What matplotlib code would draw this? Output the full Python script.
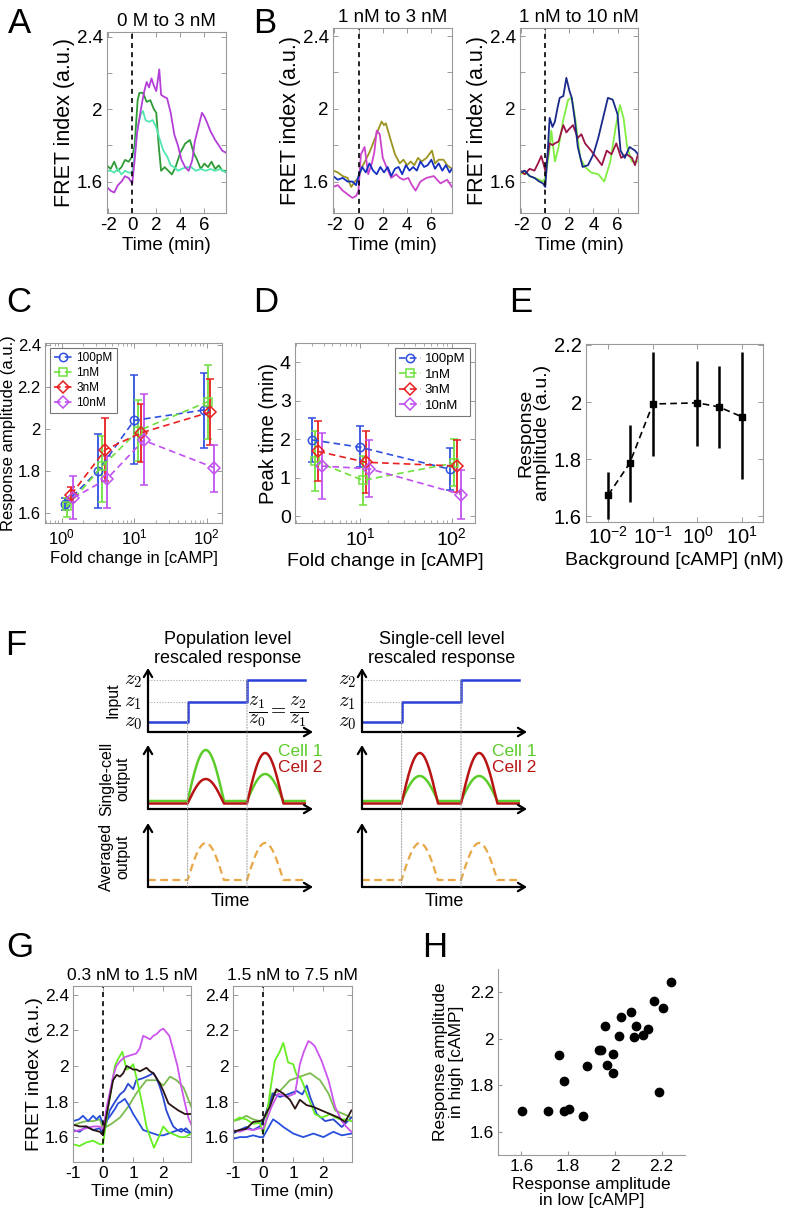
import numpy as np
import matplotlib
matplotlib.use('Agg')
import matplotlib.pyplot as plt
from matplotlib.patches import ConnectionPatch
from matplotlib.ticker import FormatStrFormatter

plt.rcParams['font.family'] = ['Liberation Sans', 'DejaVu Sans']
plt.rcParams['axes.unicode_minus'] = False

# ---------------- A: 0 M to 3 nM ----------------
a_mag_t = [-2.1, -1.8, -1.5, -1.2, -0.9, -0.6, -0.3, 0, 0.2, 0.4, 0.6, 0.8, 1.0, 1.2, 1.4, 1.6, 1.8, 2.0,
           2.25, 2.4, 2.6, 2.9, 3.2, 3.5, 3.8, 4.1, 4.4, 4.7, 5.0, 5.2, 5.5, 5.8, 6.0, 6.2, 6.5, 6.9, 7.2, 7.5, 7.8]
a_mag_v = [1.57, 1.55, 1.54, 1.58, 1.60, 1.63, 1.62, 1.59, 1.72, 1.87, 1.95, 2.03, 2.10, 2.15, 2.12, 2.17, 2.13, 2.10,
           2.22, 2.08, 2.07, 2.06, 1.98, 1.86, 1.80, 1.72, 1.68, 1.66, 1.72, 1.82, 1.90, 1.98, 1.96, 1.93, 1.88, 1.83,
           1.80, 1.77, 1.76]
a_grn_t = [-2.1, -1.8, -1.5, -1.2, -0.9, -0.6, -0.3, 0, 0.2, 0.45, 0.6, 0.9, 1.2, 1.5, 1.8, 2.0, 2.2, 2.4,
           2.7, 3.0, 3.3, 3.6, 4.0, 4.4, 4.8, 5.1, 5.4, 5.7, 6.0, 6.3, 6.6, 6.9, 7.2, 7.5, 7.8]
a_grn_v = [1.69, 1.67, 1.71, 1.66, 1.68, 1.72, 1.71, 1.74, 1.80, 2.05, 2.09, 2.09, 2.04, 2.05, 2.00, 1.98, 1.80, 1.66,
           1.68, 1.66, 1.64, 1.68, 1.76, 1.81, 1.83, 1.76, 1.72, 1.67, 1.70, 1.68, 1.71, 1.67, 1.69, 1.66, 1.66]
a_cyn_t = [-2.1, -1.8, -1.5, -1.2, -0.9, -0.6, -0.3, 0, 0.2, 0.45, 0.7, 0.9, 1.1, 1.4, 1.7, 2.0, 2.3, 2.6,
           2.9, 3.2, 3.5, 3.8, 4.1, 4.5, 4.9, 5.3, 5.7, 6.1, 6.5, 6.9, 7.3, 7.8]
a_cyn_v = [1.66, 1.66, 1.65, 1.67, 1.64, 1.66, 1.65, 1.65, 1.75, 1.90, 1.97, 1.99, 1.94, 1.93, 1.94, 1.90, 1.83, 1.77,
           1.74, 1.69, 1.68, 1.66, 1.67, 1.68, 1.68, 1.66, 1.67, 1.66, 1.67, 1.66, 1.67, 1.65]

# ---------------- B: 1 nM to 3 nM ----------------
b1_olv_t = [-2.1, -1.7, -1.3, -0.9, -0.6, -0.3, 0, 0.3, 0.6, 0.9, 1.2, 1.6, 1.9, 2.1, 2.25, 2.6, 3.0,
            3.4, 3.7, 4.0, 4.3, 4.6, 4.9, 5.2, 5.6, 6.05, 6.3, 6.6, 7.0, 7.3, 7.7]
b1_olv_v = [1.66, 1.65, 1.63, 1.62, 1.57, 1.60, 1.62, 1.68, 1.72, 1.76, 1.81, 1.88, 1.93, 1.91, 1.92, 1.84, 1.75,
            1.70, 1.72, 1.69, 1.71, 1.69, 1.73, 1.71, 1.73, 1.77, 1.70, 1.72, 1.72, 1.69, 1.67]
b1_blu_t = [-2.1, -1.7, -1.3, -0.9, -0.5, -0.2, 0, 0.3, 0.6, 0.9, 1.2, 1.5, 1.8, 2.1, 2.4, 2.7, 3.0,
            3.3, 3.6, 3.9, 4.2, 4.5, 4.8, 5.1, 5.4, 5.7, 6.0, 6.3, 6.6, 6.9, 7.2, 7.5, 7.7]
b1_blu_v = [1.63, 1.61, 1.62, 1.60, 1.60, 1.58, 1.63, 1.68, 1.65, 1.70, 1.66, 1.64, 1.68, 1.65, 1.68, 1.63, 1.67,
            1.68, 1.64, 1.69, 1.66, 1.68, 1.66, 1.71, 1.68, 1.69, 1.72, 1.67, 1.70, 1.66, 1.69, 1.65, 1.67]
b1_mag_t = [-2.1, -1.7, -1.3, -0.9, -0.5, -0.2, 0, 0.2, 0.5, 0.8, 1.1, 1.3, 1.5, 1.75, 2.0, 2.3, 2.7,
            3.1, 3.4, 3.7, 4.1, 4.4, 4.7, 5.1, 5.6, 6.2, 6.75, 7.3, 7.7]
b1_mag_v = [1.57, 1.58, 1.55, 1.53, 1.51, 1.52, 1.55, 1.75, 1.79, 1.64, 1.70, 1.76, 1.88, 1.86, 1.73, 1.68, 1.62,
            1.64, 1.62, 1.61, 1.62, 1.58, 1.55, 1.60, 1.62, 1.63, 1.59, 1.61, 1.57]

# ---------------- B: 1 nM to 10 nM ----------------
b2_nav_t = [-2.1, -1.7, -1.3, -0.9, -0.5, -0.2, 0, 0.2, 0.36, 0.6, 0.8, 1.0, 1.2, 1.5, 1.75, 2.0, 2.2,
            2.45, 2.7, 3.1, 3.55, 4.0, 4.4, 4.8, 5.2, 5.6, 6.0, 6.25, 6.6, 7.0, 7.45, 7.7]
b2_nav_v = [1.65, 1.66, 1.63, 1.62, 1.60, 1.59, 1.57, 1.76, 1.95, 1.90, 1.93, 2.00, 2.06, 2.07, 2.17, 2.10, 2.06,
            1.94, 1.79, 1.68, 1.69, 1.75, 1.84, 1.95, 2.06, 2.05, 1.97, 1.77, 1.73, 1.79, 1.77, 1.75]
b2_grn_t = [-2.1, -1.7, -1.3, -0.9, -0.5, -0.2, 0, 0.3, 0.5, 0.8, 1.1, 1.5, 1.9, 2.2, 2.5, 2.9, 3.3,
            3.8, 4.4, 4.9, 5.4, 5.85, 6.2, 6.5, 6.8, 7.2, 7.7]
b2_grn_v = [1.64, 1.65, 1.63, 1.62, 1.61, 1.60, 1.62, 1.75, 1.88, 1.71, 1.79, 1.94, 2.05, 2.06, 1.94, 1.73, 1.68,
            1.65, 1.64, 1.60, 1.71, 1.90, 2.02, 1.95, 1.79, 1.71, 1.71]
b2_mar_t = [-2.1, -1.7, -1.3, -0.9, -0.6, -0.33, 0, 0.36, 0.6, 0.8, 1.1, 1.5, 1.75, 2.0, 2.3, 2.7, 3.0,
            3.3, 3.8, 4.25, 4.7, 5.1, 5.5, 5.9, 6.3, 6.75, 7.2, 7.45, 7.7]
b2_mar_v = [1.66, 1.64, 1.67, 1.66, 1.70, 1.74, 1.66, 1.81, 1.80, 1.81, 1.82, 1.91, 1.87, 1.89, 1.91, 1.84, 1.86,
            1.81, 1.77, 1.73, 1.69, 1.77, 1.75, 1.81, 1.73, 1.75, 1.73, 1.69, 1.75]

# ---------------- C: response amplitude vs fold change ----------------
c_labels = ['100pM', '1nM', '3nM', '10nM']
c_x = [[1.1, 3.2, 10, 92], [1.2, 3.6, 11.3, 105], [1.35, 4.0, 12.3, 112], [1.45, 4.2, 13.5, 125]]
c_y = [[1.64, 1.80, 2.04, 2.09], [1.63, 1.82, 1.99, 2.13], [1.685, 1.90, 1.98, 2.08], [1.67, 1.76, 1.945, 1.815]]
c_lo = [[1.61, 1.62, 1.83, 1.91], [1.58, 1.65, 1.845, 1.95], [1.65, 1.75, 1.84, 1.925], [1.57, 1.62, 1.73, 1.70]]
c_hi = [[1.67, 1.975, 2.255, 2.265], [1.67, 1.965, 2.14, 2.305], [1.72, 2.05, 2.12, 2.24], [1.775, 1.87, 2.165, 1.925]]

# ---------------- D: peak time vs fold change ----------------
d_x = [[3.0, 10, 95], [3.2, 10.8, 107], [3.5, 11.6, 115], [3.8, 12.6, 128]]
d_y = [[1.98, 1.79, 1.22], [1.43, 0.93, 1.38], [1.68, 1.40, 1.30], [1.30, 1.23, 0.56]]
d_lo = [[1.40, 1.27, 0.68], [0.65, 0.28, 0.77], [0.91, 0.60, 0.62], [0.44, 0.49, -0.07]]
d_hi = [[2.55, 2.33, 1.76], [2.22, 1.57, 2.00], [2.46, 2.21, 1.97], [2.17, 1.97, 1.20]]

# ---------------- E: amplitude vs background ----------------
e_bg = [0.01, 0.03, 0.1, 1, 3, 10]
e_amp = [1.675, 1.785, 1.993, 1.997, 1.983, 1.948]
e_lo = [1.59, 1.65, 1.81, 1.845, 1.84, 1.73]
e_hi = [1.755, 1.92, 2.175, 2.145, 2.125, 2.175]

# ---------------- F: schematic ----------------
f_steps = [0.0, 2.4, 6.0, 9.5]
f_input = [1.0, 3.0, 5.2]
f_green_base, f_red_base, f_avg_base = 0.8, 0.55, 0.7
f_pop_green = [5.9, 3.5]
f_pop_red = [3.0, 5.6]
f_sc_green = [3.3, 3.3]
f_sc_red = [5.6, 5.6]
f_avg_peak = [4.4, 4.4]
f_hump = 2.2

# ---------------- G: 0.3 -> 1.5 nM ----------------
g1_mag_t = [-1, -0.78, -0.56, -0.33, -0.11, 0, 0.11, 0.22, 0.33, 0.44, 0.58, 0.72, 0.9, 1.1, 1.22, 1.33,
            1.45, 1.56, 1.67, 1.78, 1.89, 2.0, 2.1, 2.2, 2.33, 2.47, 2.6, 2.72, 2.83, 2.93]
g1_mag_v = [1.63, 1.64, 1.65, 1.66, 1.66, 1.64, 1.76, 1.85, 1.94, 2.00, 2.03, 2.05, 2.06, 2.07, 2.10, 2.17,
            2.16, 2.15, 2.17, 2.18, 2.20, 2.21, 2.19, 2.17, 2.09, 2.00, 1.88, 1.79, 1.71, 1.67]
g1_blk_t = [-1, -0.78, -0.56, -0.33, -0.11, 0, 0.11, 0.22, 0.33, 0.45, 0.56, 0.67, 0.78, 0.9, 1.0, 1.11,
            1.22, 1.33, 1.44, 1.56, 1.67, 1.78, 1.89, 2.0, 2.17, 2.33, 2.5, 2.72, 2.93]
g1_blk_v = [1.67, 1.66, 1.66, 1.64, 1.63, 1.61, 1.72, 1.82, 1.92, 1.95, 1.94, 1.96, 2.00, 1.99, 1.98, 1.98,
            1.97, 1.98, 1.99, 1.97, 1.96, 1.93, 1.90, 1.86, 1.79, 1.77, 1.75, 1.73, 1.73]
g1_bl1_t = [-1, -0.78, -0.56, -0.33, -0.11, 0, 0.22, 0.4, 0.56, 0.7, 0.83, 1.0, 1.1, 1.3, 1.44, 1.56,
            1.67, 1.78, 1.89, 2.0, 2.1, 2.22, 2.33, 2.47, 2.6, 2.75, 2.93]
g1_bl1_v = [1.64, 1.63, 1.66, 1.64, 1.65, 1.61, 1.75, 1.80, 1.84, 1.86, 1.90, 1.87, 1.92, 1.93, 1.94, 1.95,
            1.96, 1.93, 1.88, 1.82, 1.75, 1.70, 1.66, 1.64, 1.63, 1.65, 1.62]
g1_bl2_t = [-1, -0.8, -0.67, -0.5, -0.33, -0.22, -0.11, 0, 0.15, 0.28, 0.4, 0.5, 0.6, 0.72, 0.85, 1.0, 1.15, 1.33,
            1.5, 1.67, 1.85, 2.0, 2.17, 2.33, 2.5, 2.6, 2.75, 2.93]
g1_bl2_v = [1.69, 1.70, 1.72, 1.69, 1.72, 1.70, 1.72, 1.675, 1.70, 1.73, 1.76, 1.79, 1.80, 1.815, 1.78, 1.73, 1.69,
            1.64, 1.63, 1.62, 1.61, 1.61, 1.62, 1.63, 1.64, 1.647, 1.63, 1.62]
g1_lgr_t = [-1, -0.78, -0.56, -0.33, -0.11, 0, 0.17, 0.3, 0.39, 0.5, 0.64, 0.78, 0.9, 1.0, 1.1, 1.22,
            1.33, 1.44, 1.56, 1.69, 1.85, 2.0, 2.15, 2.28, 2.42, 2.56, 2.72, 2.93]
g1_lgr_v = [1.56, 1.55, 1.57, 1.58, 1.56, 1.56, 1.77, 1.90, 2.00, 2.04, 2.08, 1.98, 1.99, 2.01, 1.94, 1.85,
            1.76, 1.66, 1.60, 1.54, 1.60, 1.66, 1.63, 1.62, 1.61, 1.60, 1.60, 1.62]
g1_ogr_t = [-1, -0.78, -0.56, -0.33, -0.11, 0, 0.28, 0.56, 0.83, 1.1, 1.3, 1.44, 1.6, 1.78, 2.0, 2.22, 2.44, 2.67, 2.93]
g1_ogr_v = [1.665, 1.68, 1.69, 1.69, 1.70, 1.647, 1.675, 1.71, 1.77, 1.845, 1.89, 1.92, 1.92, 1.92, 1.89, 1.94,
            1.92, 1.88, 1.77]

# ---------------- G: 1.5 -> 7.5 nM ----------------
g2_lgr_t = [-1, -0.78, -0.56, -0.33, -0.11, 0, 0.11, 0.22, 0.39, 0.55, 0.67, 0.83, 1.0, 1.11, 1.22, 1.33,
            1.44, 1.6, 1.72, 1.94, 2.1, 2.22, 2.4, 2.56, 2.75, 2.93]
g2_lgr_v = [1.69, 1.71, 1.70, 1.675, 1.68, 1.62, 1.70, 1.845, 2.03, 2.08, 2.13, 2.02, 2.01, 1.95, 1.94, 1.90,
            1.845, 1.78, 1.73, 1.71, 1.72, 1.73, 1.71, 1.70, 1.70, 1.69]
g2_mag_t = [-1, -0.78, -0.56, -0.33, -0.11, 0, 0.28, 0.5, 0.78, 1.06, 1.22, 1.35, 1.5, 1.6, 1.72, 1.94,
            2.17, 2.39, 2.61, 2.75, 2.93]
g2_mag_v = [1.64, 1.63, 1.645, 1.64, 1.65, 1.647, 1.77, 1.845, 1.826, 1.845, 2.01, 2.08, 2.14, 2.13, 2.11, 2.03,
            1.92, 1.77, 1.69, 1.66, 1.63]
g2_ogr_t = [-1, -0.78, -0.56, -0.33, -0.11, 0, 0.28, 0.56, 0.89, 1.22, 1.56, 1.89, 2.17, 2.39, 2.67, 2.93]
g2_ogr_v = [1.69, 1.70, 1.72, 1.70, 1.69, 1.685, 1.845, 1.86, 1.92, 1.94, 1.96, 1.92, 1.845, 1.75, 1.73, 1.71]
g2_bl1_t = [-1, -0.78, -0.56, -0.33, -0.11, 0, 0.33, 0.56, 0.89, 1.11, 1.3, 1.45, 1.56, 1.78, 2.06, 2.33, 2.61, 2.93]
g2_bl1_v = [1.62, 1.64, 1.657, 1.64, 1.66, 1.69, 1.845, 1.826, 1.845, 1.86, 1.84, 1.89, 1.826, 1.73, 1.69, 1.70,
            1.657, 1.71]
g2_bl2_t = [-1, -0.78, -0.56, -0.33, -0.11, 0, 0.33, 0.5, 0.67, 1.0, 1.33, 1.67, 2.0, 2.33, 2.61, 2.93]
g2_bl2_v = [1.59, 1.60, 1.60, 1.61, 1.60, 1.60, 1.70, 1.68, 1.657, 1.62, 1.60, 1.62, 1.60, 1.63, 1.61, 1.62]
g2_blk_t = [-1, -0.78, -0.56, -0.33, -0.11, 0, 0.22, 0.44, 0.67, 0.89, 1.06, 1.22, 1.44, 1.67, 1.94, 2.22, 2.5,
            2.72, 2.93]
g2_blk_v = [1.63, 1.64, 1.647, 1.685, 1.69, 1.70, 1.77, 1.87, 1.845, 1.81, 1.76, 1.81, 1.78, 1.77, 1.75, 1.73, 1.71,
            1.685, 1.75]

# ---------------- H: amplitude high vs low ----------------
h_low = [1.604, 1.715, 1.784, 1.804, 1.864, 1.762, 1.784, 1.880, 1.930, 1.942, 1.956, 1.966, 1.990,
         1.993, 2.016, 2.025, 2.069, 2.081, 2.092, 2.121, 2.142, 2.167, 2.187, 2.204, 2.241]
h_high = [1.691, 1.691, 1.691, 1.696, 1.667, 1.930, 1.817, 1.881, 1.953, 1.953, 2.056, 1.886, 1.934,
          1.853, 2.010, 2.094, 2.113, 2.007, 2.054, 2.017, 2.044, 2.164, 1.771, 2.133, 2.246]

W, H = 789, 1211
GRAY = '#9a9a9a'
fig = plt.figure(figsize=(W / 100, H / 100), dpi=100)


def axes_px(l, t, r, b):
    return fig.add_axes([l / W, 1 - b / H, (r - l) / W, (b - t) / H])


def boxed(ax, size):
    for s in ax.spines.values():
        s.set_color(GRAY)
        s.set_linewidth(0.8)
    ax.tick_params(which='both', direction='in', top=True, right=True, color=GRAY, labelsize=size, pad=3)
    ax.tick_params(which='major', length=3.5, width=0.7)
    ax.tick_params(which='minor', length=2, width=0.6)


def trace_panel(box, traces, title, xlim, ylim, xticks, yticks, ylabels, size, ylabel_size=None):
    ax = axes_px(*box)
    for t, v, c in traces:
        ax.plot(t, v, color=c, lw=1.3)
    ax.axvline(0, color='k', lw=1.2, ls=(0, (3, 2.5)))
    ax.set_xlim(xlim)
    ax.set_ylim(ylim)
    ax.set_xticks(xticks)
    ax.set_yticks(yticks)
    ax.set_yticklabels(ylabels)
    boxed(ax, size)
    ax.set_title(title, fontsize=size, pad=4)
    ax.set_xlabel('Time (min)', fontsize=size, labelpad=2)
    if ylabel_size:
        ax.set_ylabel('FRET index (a.u.)', fontsize=ylabel_size, labelpad=1)
    return ax


ab_yt = [1.6, 1.8, 2.0, 2.2, 2.4]
ab_yl = ['1.6', '', '2', '', '2.4']
trace_panel((107, 32, 226, 213),
            [(a_grn_t, a_grn_v, '#2f9a36'), (a_cyn_t, a_cyn_v, '#52e6b0'), (a_mag_t, a_mag_v, '#b43fd8')],
            '0 M to 3 nM', (-2.1, 7.8), (1.427, 2.426), [-2, 0, 2, 4, 6], ab_yt, ab_yl, 13.5, 15.5)
trace_panel((333, 28, 452, 213),
            [(b1_olv_t, b1_olv_v, '#9c9420'), (b1_mag_t, b1_mag_v, '#cc44cc'), (b1_blu_t, b1_blu_v, '#1530c0')],
            '1 nM to 3 nM', (-2.1, 7.7), (1.427, 2.444), [-2, 0, 2, 4, 6], ab_yt, ab_yl, 13.5, 15.5)
trace_panel((520, 28, 638, 213),
            [(b2_grn_t, b2_grn_v, '#80ee40'), (b2_mar_t, b2_mar_v, '#9a1446'), (b2_nav_t, b2_nav_v, '#1a2a8a')],
            '1 nM to 10 nM', (-2.1, 7.7), (1.427, 2.444), [-2, 0, 2, 4, 6], ab_yt, ab_yl, 13.5, 15.5)

# ---- C and D ----
cd_colors = ['#3050e0', '#70e040', '#e82020', '#c050f0']
cd_markers = ['o', 's', 'D', 'D']


def err_series(ax, xs, ys, los, his, ms):
    handles = []
    for x, y, lo, hi, c, m in zip(xs, ys, los, his, cd_colors, cd_markers):
        y = np.array(y)
        yerr = [y - np.array(lo), np.array(hi) - y]
        eb = ax.errorbar(x, y, yerr=yerr, color=c, marker=m, ms=ms, mfc='none', mew=1.1,
                         ls=(0, (4, 2.5)), lw=1.2, elinewidth=1.3, capsize=3, capthick=1.1)
        handles.append(eb[0])
    return handles


ax_c = axes_px(45, 343, 222, 523)
hc = err_series(ax_c, c_x, c_y, c_lo, c_hi, 6)
ax_c.set_xscale('log')
ax_c.set_xlim(0.59, 163)
ax_c.set_ylim(1.55, 2.41)
ax_c.set_yticks([1.6, 1.8, 2.0, 2.2, 2.4])
ax_c.yaxis.set_major_formatter(FormatStrFormatter('%g'))
boxed(ax_c, 12)
ax_c.set_ylabel('Response amplitude (a.u.)', fontsize=12, labelpad=1)
ax_c.set_xlabel('Fold change in [cAMP]', fontsize=12, labelpad=3)
leg = ax_c.legend(hc, c_labels, loc='upper left', fontsize=8.5, handlelength=1.6, handletextpad=0.3,
                  borderpad=0.35, labelspacing=0.25, fancybox=False, borderaxespad=0.4)
leg.get_frame().set_edgecolor('#555555')
leg.get_frame().set_linewidth(0.8)

ax_d = axes_px(295, 343, 475, 523)
hd = err_series(ax_d, d_x, d_y, d_lo, d_hi, 6)
ax_d.set_xscale('log')
ax_d.set_xlim(1.95, 180)
ax_d.set_ylim(-0.18, 4.5)
ax_d.set_yticks([0, 1, 2, 3, 4])
boxed(ax_d, 14)
ax_d.set_ylabel('Peak time (min)', fontsize=14.5, labelpad=1)
ax_d.set_xlabel('Fold change in [cAMP]', fontsize=14, labelpad=3)
leg = ax_d.legend(hd, c_labels, loc='upper right', fontsize=9.5, handlelength=1.6, handletextpad=0.3,
                  borderpad=0.35, labelspacing=0.25, fancybox=False, borderaxespad=0.4)
leg.get_frame().set_edgecolor('#555555')
leg.get_frame().set_linewidth(0.8)

# ---- E ----
ax_e = axes_px(586, 344, 763, 522)
e_amp_arr = np.array(e_amp)
ax_e.errorbar(e_bg, e_amp_arr, yerr=[e_amp_arr - np.array(e_lo), np.array(e_hi) - e_amp_arr], color='k',
              marker='s', ms=4, ls=(0, (4, 2.5)), lw=1.2, elinewidth=1.8, capsize=0)
ax_e.set_xscale('log')
ax_e.set_xlim(10 ** -2.5, 10 ** 1.47)
ax_e.set_ylim(1.58, 2.203)
ax_e.set_xticks([0.01, 0.1, 1, 10])
ax_e.set_yticks([1.6, 1.8, 2.0, 2.2])
ax_e.yaxis.set_major_formatter(FormatStrFormatter('%g'))
boxed(ax_e, 14.5)
ax_e.set_ylabel('Response\namplitude (a.u.)', fontsize=14, labelpad=2, linespacing=1.0)
ax_e.set_xlabel('Background [cAMP] (nM)', fontsize=14, labelpad=3)

# ---- F: schematic ----
t_f = np.linspace(0, f_steps[-1], 951)


def response(base, peaks):
    y = np.full_like(t_f, base)
    for start, pk in zip(f_steps[1:3], peaks):
        m = (t_f >= start) & (t_f <= start + f_hump)
        y[m] = base + (pk - base) * np.sin(np.pi * (t_f[m] - start) / f_hump)
    return y


def arrows(ax):
    for s in ax.spines.values():
        s.set_visible(False)
    ax.set_xticks([])
    ax.set_yticks([])
    ax.set_xlim(0, 10)
    ax.set_ylim(0, 6.4)
    ax.patch.set_alpha(0)
    kw = dict(arrowstyle='->,head_length=0.5,head_width=0.3', lw=1.6, color='k', shrinkA=0, shrinkB=0)
    ax.annotate('', xy=(1, 0), xytext=(0, 0), xycoords='axes fraction', arrowprops=kw)
    ax.annotate('', xy=(0, 1), xytext=(0, 0), xycoords='axes fraction', arrowprops=kw)


def schematic(x0, title, green_pk, red_pk, row_labels):
    ax_in = axes_px(x0, 668, x0 + 165, 732)
    ax_sc = axes_px(x0, 745, x0 + 165, 809)
    ax_av = axes_px(x0, 823, x0 + 165, 887)
    for ax in (ax_in, ax_sc, ax_av):
        arrows(ax)
    dot = dict(color='#a8a8a8', lw=0.8, ls=(0, (1, 1.5)))
    ax_in.hlines(f_input[1:], 0, f_steps[1:3], **dot)
    for st, lv in zip(f_steps[1:3], f_input[1:]):
        cp = ConnectionPatch(xyA=(st, lv), coordsA=ax_in.transData, xyB=(st, 0), coordsB=ax_av.transData, **dot)
        fig.add_artist(cp)
    ax_in.step(f_steps, f_input + [f_input[-1]], where='post', color='#2b3fd6', lw=1.8)
    for z, name in zip(f_input, [r'$z_{\mathit{0}}$', r'$z_{\mathit{1}}$', r'$z_{\mathit{2}}$']):
        ax_in.text(-0.35, z, name, ha='right', va='center', fontsize=15, math_fontfamily='cm')
    ax_sc.plot(t_f, response(f_green_base, green_pk), color='#5ccc2a', lw=1.8)
    ax_sc.plot(t_f, response(f_red_base, red_pk), color='#b81414', lw=1.8)
    ax_sc.text(7.9, 5.7, 'Cell 1', color='#5ccc2a', fontsize=12.5, ha='left', va='center')
    ax_sc.text(7.9, 4.1, 'Cell 2', color='#b81414', fontsize=12.5, ha='left', va='center')
    ax_av.plot(t_f, response(f_avg_base, f_avg_peak), color='#e8a848', lw=1.6, ls=(0, (3.5, 2)))
    ax_av.set_xlabel('Time', fontsize=13, labelpad=4)
    fig.text((x0 + 80) / W, 1 - 649 / H, title, ha='center', va='center', fontsize=13, linespacing=1.15)
    if row_labels:
        ax_in.text(-2.1, 3.2, 'Input', rotation=90, ha='center', va='center', fontsize=11.5)
        ax_sc.text(-2.0, 3.0, 'Single-cell\noutput', rotation=90, ha='center', va='center', fontsize=11.5,
                   linespacing=1.1)
        ax_av.text(-2.0, 3.0, 'Averaged\noutput', rotation=90, ha='center', va='center', fontsize=11.5,
                   linespacing=1.1)
        ax_in.text(7.9, 2.0, r'$\dfrac{z_1}{z_0} = \dfrac{z_2}{z_1}$', ha='center', va='center', fontsize=14,
                   math_fontfamily='cm')


schematic(148, 'Population level\nrescaled response', f_pop_green, f_pop_red, True)
schematic(362, 'Single-cell level\nrescaled response', f_sc_green, f_sc_red, False)

# ---- G ----
g_yt = [1.6, 1.8, 2.0, 2.2, 2.4]
g_yl = ['1.6', '1.8', '2', '2.2', '2.4']
trace_panel((73, 986, 191, 1162),
            [(g1_ogr_t, g1_ogr_v, '#7cbb50'), (g1_bl2_t, g1_bl2_v, '#2850dd'), (g1_bl1_t, g1_bl1_v, '#2848d0'),
             (g1_lgr_t, g1_lgr_v, '#66ee22'), (g1_mag_t, g1_mag_v, '#cc55ee'), (g1_blk_t, g1_blk_v, '#2b1414')],
            '0.3 nM to 1.5 nM', (-1, 2.92), (1.46, 2.45), [-1, 0, 1, 2], g_yt, g_yl, 12.5, 14)
trace_panel((233, 986, 352, 1162),
            [(g2_ogr_t, g2_ogr_v, '#7cbb50'), (g2_bl2_t, g2_bl2_v, '#2850dd'), (g2_bl1_t, g2_bl1_v, '#2848d0'),
             (g2_lgr_t, g2_lgr_v, '#66ee22'), (g2_mag_t, g2_mag_v, '#cc55ee'), (g2_blk_t, g2_blk_v, '#2b1414')],
            '1.5 nM to 7.5 nM', (-1, 2.95), (1.46, 2.45), [-1, 0, 1, 2], g_yt, g_yl, 12.5)

# ---- H ----
ax_h = axes_px(498, 969, 685, 1155)
ax_h.plot(h_low, h_high, 'o', color='k', ms=6)
ax_h.set_xlim(1.5, 2.3)
ax_h.set_ylim(1.5, 2.3)
ax_h.set_xticks([1.6, 1.8, 2.0, 2.2])
ax_h.set_yticks([1.6, 1.8, 2.0, 2.2])
ax_h.xaxis.set_major_formatter(FormatStrFormatter('%g'))
ax_h.yaxis.set_major_formatter(FormatStrFormatter('%g'))
for side in ['top', 'right']:
    ax_h.spines[side].set_visible(False)
for side in ['left', 'bottom']:
    ax_h.spines[side].set_color(GRAY)
    ax_h.spines[side].set_linewidth(0.8)
ax_h.tick_params(direction='in', length=3, color=GRAY, labelsize=12.5, pad=3)
ax_h.set_xlabel('Response amplitude\nin low [cAMP]', fontsize=12.5, labelpad=2, linespacing=1.1)
ax_h.set_ylabel('Response amplitude\nin high [cAMP]', fontsize=12.5, labelpad=4, linespacing=1.1)

# ---- panel letters ----
for letter, x, y in [('A', 20, 33), ('B', 265, 33), ('C', 19, 312), ('D', 266, 312), ('E', 521, 312),
                     ('F', 16, 655), ('G', 20, 957), ('H', 435, 957)]:
    fig.text(x / W, 1 - y / H, letter, fontsize=25, ha='center', va='baseline')

fig.savefig('out.png', dpi=100)
